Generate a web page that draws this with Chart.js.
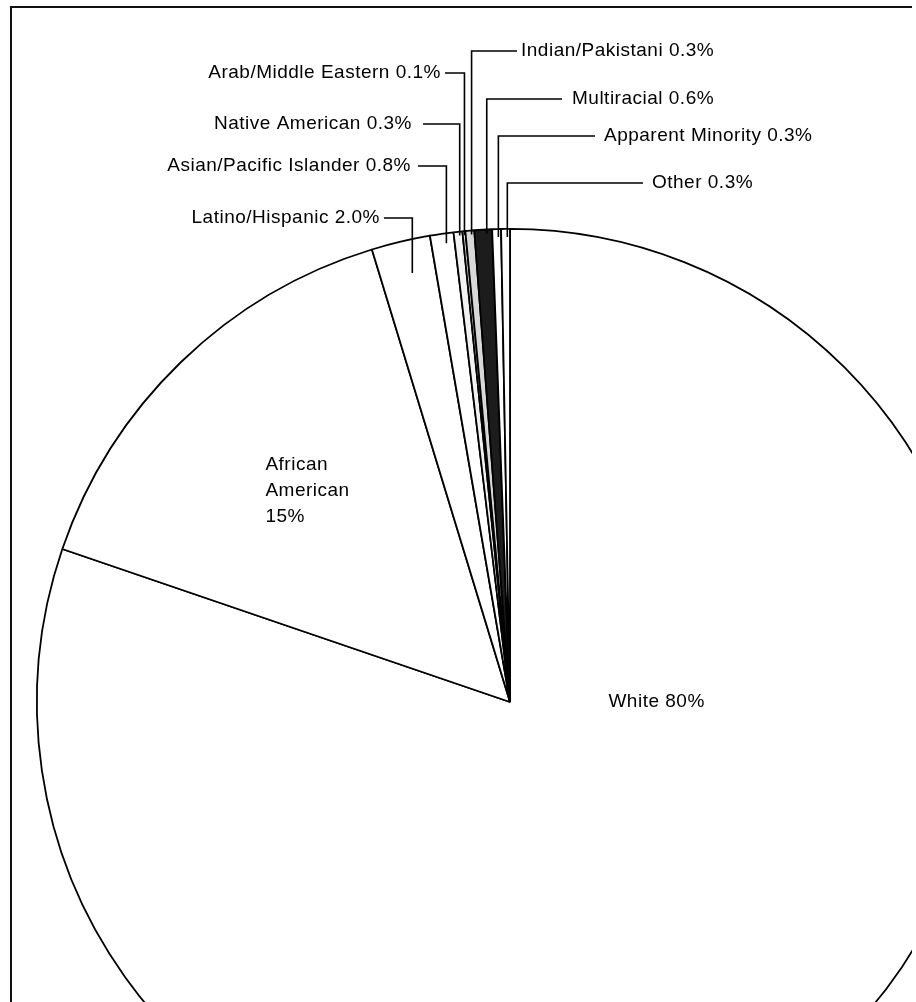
<!DOCTYPE html>
<html>
<head>
<meta charset="utf-8">
<script src="https://cdn.jsdelivr.net/npm/chart.js@4"></script>
<style>
  body { margin: 0; background: #fff; }
  #clip { position: absolute; left: 0; top: 0; width: 912px; height: 1002px; overflow: hidden; }
  #pie { position: absolute; left: 0; top: 0; }
  #frame { position: absolute; left: 10px; top: 6px; width: 902px; height: 1100px;
           border-left: 2px solid #111; border-top: 2px solid #111; }
</style>
</head>
<body>
<div id="clip">
  <canvas id="pie" width="1020" height="1404"></canvas>
  <div id="frame"></div>
</div>
<script>
// racial / ethnic groups, clockwise from 12 o'clock
var categories = [
  "White",
  "African American",
  "Latino/Hispanic",
  "Asian/Pacific Islander",
  "Native American",
  "Arab/Middle Eastern",
  "Indian/Pakistani",
  "Multiracial",
  "Apparent Minority",
  "Other",
];
var shares = [80, 15, 2.0, 0.8, 0.3, 0.1, 0.3, 0.6, 0.3, 0.3];
var shareText = ["80%", "15%", "2.0%", "0.8%", "0.3%", "0.1%", "0.3%", "0.6%", "0.3%", "0.3%"];
var fills = ["#ffffff", "#ffffff", "#ffffff", "#ffffff", "#f2f2f2", "#cfcfcf",
             "#d8d8d8", "#1c1c1c", "#ffffff", "#ffffff"];

var FONT = '19px "Liberation Sans", Arial, Helvetica, sans-serif';
var INK = "#000";

// where the outside labels sit: text anchor (x,y), start of the leader's horizontal run, how far it dips into the pie
var outside = {
  "Latino/Hispanic":        { side: "left",  tx: 380, ty: 218, lx: 384, dip: 34 },
  "Asian/Pacific Islander": { side: "left",  tx: 411, ty: 166, lx: 418, dip: 10 },
  "Native American":        { side: "left",  tx: 412, ty: 124, lx: 423, dip: 4 },
  "Arab/Middle Eastern":    { side: "left",  tx: 441, ty: 73,  lx: 445, dip: 4 },
  "Indian/Pakistani":       { side: "right", tx: 521, ty: 51,  lx: 517, dip: 4 },
  "Multiracial":            { side: "right", tx: 572, ty: 99,  lx: 562, dip: 4 },
  "Apparent Minority":      { side: "right", tx: 604, ty: 136, lx: 595, dip: 8 },
  "Other":                  { side: "right", tx: 652, ty: 183, lx: 643, dip: 8 },
};
// labels inside the big slices, offsets as a fraction of the radius from the centre
var inside = {
  "White":            { fx: 0.208, fy: 0.011, lines: ["White 80%"] },
  "African American": { fx: -0.517, fy: -0.49, lines: ["African", "American", "15%"] },
};

var labelPlugin = {
  id: "pieLabels",
  afterDatasetsDraw: function (chart) {
    var ctx = chart.ctx;
    var arcs = chart.getDatasetMeta(0).data;
    ctx.save();
    ctx.font = FONT;
    ctx.fillStyle = INK;
    ctx.strokeStyle = INK;
    ctx.lineWidth = 1.6;
    ctx.letterSpacing = "0.5px";
    ctx.textBaseline = "middle";

    arcs.forEach(function (arc, i) {
      var name = categories[i];
      var p = arc.getProps(["x", "y", "startAngle", "endAngle", "outerRadius"], true);
      var o = outside[name];
      if (o) {
        // leader drops onto the slice a little past its middle
        var a = p.startAngle + 0.7 * (p.endAngle - p.startAngle);
        var ax = p.x + p.outerRadius * Math.cos(a);
        var edgeY = p.y - Math.sqrt(p.outerRadius * p.outerRadius - (ax - p.x) * (ax - p.x));
        ctx.beginPath();
        ctx.moveTo(o.lx, o.ty);
        ctx.lineTo(ax, o.ty);
        ctx.lineTo(ax, edgeY + o.dip);
        ctx.stroke();
        ctx.textAlign = o.side === "left" ? "right" : "left";
        ctx.fillText(name + " " + shareText[i], o.tx, o.ty);
      }
      var inn = inside[name];
      if (inn) {
        ctx.textAlign = "left";
        ctx.textBaseline = "alphabetic";
        var x0 = p.x + inn.fx * p.outerRadius;
        var y0 = p.y + inn.fy * p.outerRadius;
        inn.lines.forEach(function (ln, k) {
          ctx.fillText(ln, x0, y0 + k * 26);
        });
        ctx.textBaseline = "middle";
      }
    });
    ctx.restore();
  },
};

new Chart("pie", {
  type: "pie",
  data: {
    labels: categories,
    datasets: [
      {
        data: shares,
        backgroundColor: fills,
        borderColor: INK,
        borderWidth: 1.8,
      },
    ],
  },
  options: {
    responsive: false,
    animation: false,
    devicePixelRatio: 1,
    layout: { padding: { left: 36, right: 36, top: 228, bottom: 228 } },
    plugins: {
      legend: { display: false },
      tooltip: { enabled: false },
    },
  },
  plugins: [labelPlugin],
});
</script>
</body>
</html>
